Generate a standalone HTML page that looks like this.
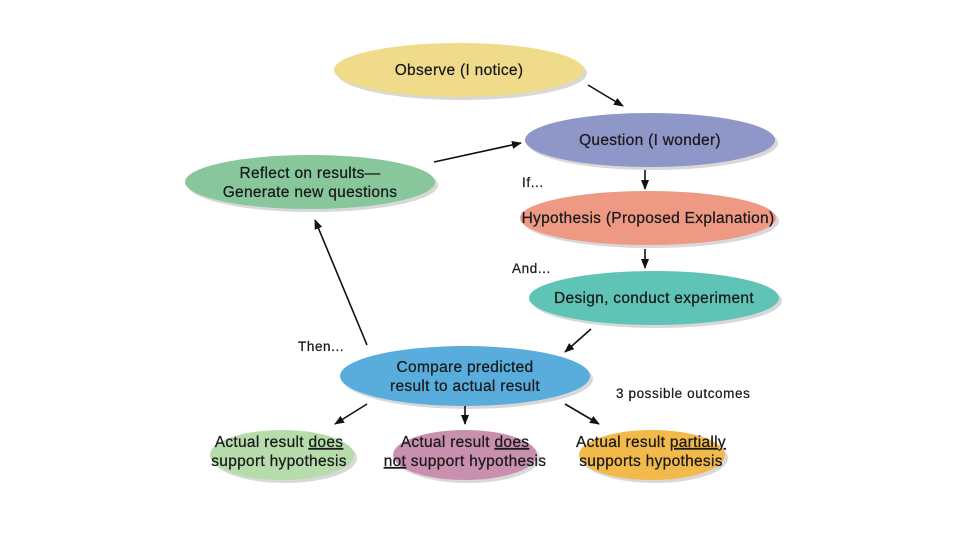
<!DOCTYPE html>
<html><head><meta charset="utf-8"><style>
html,body{margin:0;padding:0;background:#fff;}
svg text{font-family:"Liberation Sans",Arial,sans-serif;font-size:15.5px;letter-spacing:0.3px;fill:#1a1a1a;stroke:#1a1a1a;stroke-width:0.25px;}
svg text.l{font-size:13.5px;letter-spacing:0.6px;}
</style></head><body>
<svg width="960" height="540" viewBox="0 0 960 540" xmlns="http://www.w3.org/2000/svg">
<defs>
<marker id="a" markerWidth="10" markerHeight="10" refX="9" refY="5" orient="auto" markerUnits="userSpaceOnUse">
<path d="M0,1 L10,5 L0,9 Z" fill="#111"/></marker>
</defs>
<g fill="#d8d8d8">
<ellipse cx="462" cy="73" rx="125" ry="27"/>
<ellipse cx="653" cy="143" rx="125" ry="27"/>
<ellipse cx="313" cy="185" rx="125" ry="27"/>
<ellipse cx="651" cy="221" rx="128" ry="27"/>
<ellipse cx="657" cy="301" rx="125" ry="27"/>
<ellipse cx="468" cy="379" rx="125" ry="30"/>
<ellipse cx="285" cy="458" rx="72" ry="25"/>
<ellipse cx="468" cy="458" rx="72" ry="25"/>
<ellipse cx="655" cy="458" rx="73" ry="25"/>
</g>
<ellipse cx="459" cy="70" rx="125" ry="27" fill="#f0db8a"/>
<ellipse cx="650" cy="140" rx="125" ry="27" fill="#8e97c8"/>
<ellipse cx="310" cy="182" rx="125" ry="27" fill="#87c79b"/>
<ellipse cx="648" cy="218" rx="128" ry="27" fill="#ee9984"/>
<ellipse cx="654" cy="298" rx="125" ry="27" fill="#5fc4b6"/>
<ellipse cx="465" cy="376" rx="125" ry="30" fill="#58addc"/>
<ellipse cx="282" cy="455" rx="72" ry="25" fill="#b6dcac"/>
<ellipse cx="465" cy="455" rx="72" ry="25" fill="#c98faf"/>
<ellipse cx="652" cy="455" rx="73" ry="25" fill="#f2b94b"/>
<g stroke="#111" stroke-width="1.6" fill="none" marker-end="url(#a)">
<line x1="588" y1="85" x2="623" y2="106"/>
<line x1="434" y1="162" x2="521" y2="143"/>
<line x1="645" y1="170" x2="645" y2="189"/>
<line x1="645" y1="249" x2="645" y2="268"/>
<line x1="591" y1="329" x2="565" y2="352"/>
<line x1="367" y1="345" x2="315" y2="220"/>
<line x1="367" y1="404" x2="335" y2="424"/>
<line x1="465" y1="406" x2="465" y2="424"/>
<line x1="565" y1="404" x2="599" y2="424"/>
</g>
<g text-anchor="middle">
<text x="459" y="75">Observe (I notice)</text>
<text x="650" y="145">Question (I wonder)</text>
<text x="310" y="178">Reflect on results—</text>
<text x="310" y="197">Generate new questions</text>
<text x="648" y="223">Hypothesis (Proposed Explanation)</text>
<text x="654" y="303">Design, conduct experiment</text>
<text x="465" y="372">Compare predicted</text>
<text x="465" y="391">result to actual result</text>
<text x="279" y="447">Actual result <tspan text-decoration="underline">does</tspan></text>
<text x="279" y="466">support hypothesis</text>
<text x="465" y="447">Actual result <tspan text-decoration="underline">does</tspan></text>
<text x="465" y="466"><tspan text-decoration="underline">not</tspan> support hypothesis</text>
<text x="651" y="447">Actual result <tspan text-decoration="underline">partially</tspan></text>
<text x="651" y="466">supports hypothesis</text>
</g>
<text class="l" x="522" y="187">If...</text>
<text class="l" x="512" y="273">And...</text>
<text class="l" x="298" y="351">Then...</text>
<text class="l" x="616" y="398">3 possible outcomes</text>
</svg>
</body></html>
